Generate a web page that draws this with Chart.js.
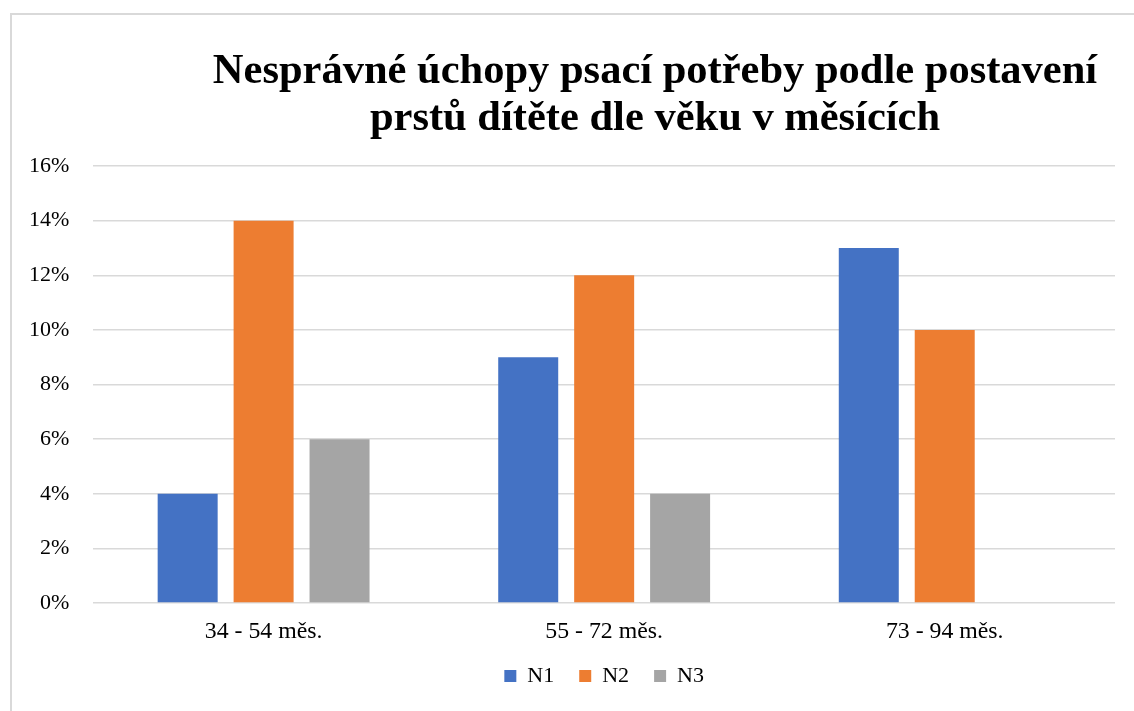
<!DOCTYPE html>
<html>
<head>
<meta charset="utf-8">
<script src="https://cdn.jsdelivr.net/npm/chart.js@4/dist/chart.umd.min.js"></script>
<style>
  html, body { margin: 0; padding: 0; overflow: hidden; background: #fff; }
  #frame { position: absolute; left: 10px; top: 13px; width: 1200px; height: 800px; border: 2px solid #d9d9d9; }
  #wrap { position: absolute; left: 0; top: 0; width: 1305px; height: 711px; }
</style>
</head>
<body>
<div id="frame"></div>
<div id="wrap"><canvas id="gripChart"></canvas></div>
<script>
const categories = ['34 - 54 měs.', '55 - 72 měs.', '73 - 94 měs.'];
const n1Values = [4, 9, 13];
const n2Values = [14, 12, 10];
const n3Values = [6, 4, 0];
const yTicks = [0, 2, 4, 6, 8, 10, 12, 14, 16];

const serif = "'Liberation Serif', 'Times New Roman', serif";

let config = {
    type: 'bar',
    data: {
        labels: categories,
        datasets: [
            { label: 'N1', data: n1Values, backgroundColor: '#4472C4' },
            { label: 'N2', data: n2Values, backgroundColor: '#ED7D31' },
            { label: 'N3', data: n3Values, backgroundColor: '#A5A5A5' },
        ],
    },
    options: {
        responsive: false,
        animation: false,
        layout: { padding: { left: 5, right: 0, top: 0, bottom: 14 } },
        datasets: { bar: { categoryPercentage: 0.669, barPercentage: 0.79 } },
        plugins: {
            title: {
                display: true,
                text: ['Nesprávné úchopy psací potřeby podle postavení', 'prstů dítěte dle věku v měsících'],
                color: '#000',
                font: { family: serif, size: 42.5, weight: 'bold', lineHeight: 1.106 },
                padding: { top: 49, bottom: 23 },
            },
            legend: {
                position: 'bottom',
                fullSize: false,
                labels: {
                    color: '#000',
                    font: { family: serif, size: 22 },
                    boxWidth: 12,
                    boxHeight: 12,
                    padding: 25,
                },
            },
            tooltip: { enabled: false },
        },
        scales: {
            x: {
                // tick marks are hidden; their length only pushes the labels down
                grid: { display: false, drawTicks: true, tickLength: 21 },
                border: { display: false },
                ticks: { color: '#000', font: { family: serif, size: 23.8, lineHeight: '16px' }, padding: 0 },
            },
            y: {
                min: 0,
                max: 16,
                afterBuildTicks: (axis) => { axis.ticks = yTicks.map(v => ({ value: v })); },
                grid: { color: '#d9d9d9', lineWidth: 1.5, drawTicks: false },
                border: { display: false },
                ticks: {
                    color: '#000',
                    font: { family: serif, size: 22 },
                    padding: 24,
                    callback: (v) => v + '%',
                },
            },
            // empty space on the right, so the title sits off-centre like the original
            spacer: {
                type: 'linear',
                position: 'right',
                grid: { display: false, drawTicks: false },
                border: { display: false },
                ticks: { display: false },
                afterFit: (scale) => { scale.width = 190; },
            },
        },
    },
};

const canvas = document.getElementById('gripChart');
canvas.width = 1305;
canvas.height = 711;
new Chart(canvas, config);
</script>
</body>
</html>
